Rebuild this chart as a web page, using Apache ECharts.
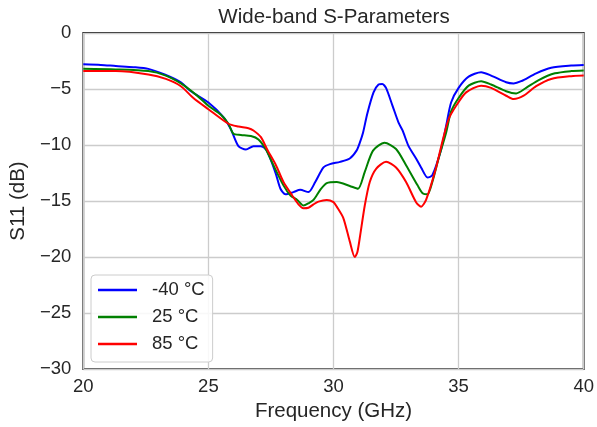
<!DOCTYPE html>
<html>
<head>
<meta charset="utf-8">
<script src="https://cdn.jsdelivr.net/npm/echarts@6/dist/echarts.min.js"></script>
<style>
html,body{margin:0;padding:0;background:#fff;}
#chart{width:597px;height:427px;}
</style>
</head>
<body>
<div id="chart"></div>
<script>
// Data
const seriesNames = ['-40 °C', '25 °C', '85 °C'];
const xTicks = [20, 25, 30, 35, 40];
const yTicks = [0, -5, -10, -15, -20, -25, -30];

const freqM40 = [20.0,20.7,21.3,22.0,22.6,23.25,23.9,24.3,25.0,25.6,25.9,26.2,26.5,26.8,27.1,27.3,27.49,27.7,27.88,28.08,28.4,28.67,29.0,29.27,29.6,29.86,30.26,30.65,30.92,31.05,31.18,31.35,31.6,31.8,31.95,32.1,32.36,32.6,32.76,33.0,33.3,33.5,33.76,33.95,34.3,34.5,34.7,35.0,35.4,35.9,36.3,36.9,37.2,37.5,38.1,38.7,39.5,40.0];
const s11M40  = [-2.8,-2.85,-2.95,-3.05,-3.2,-3.7,-4.4,-5.2,-6.2,-7.5,-8.6,-10.1,-10.4,-10.1,-10.1,-10.4,-11.3,-12.6,-13.9,-14.4,-14.2,-14.0,-14.2,-13.3,-12.0,-11.7,-11.5,-11.2,-10.5,-9.8,-8.9,-7.2,-5.3,-4.6,-4.55,-4.9,-6.5,-8.0,-8.7,-10.1,-11.2,-12.0,-12.9,-12.7,-10.4,-8.3,-6.2,-4.9,-3.9,-3.5,-3.8,-4.4,-4.5,-4.3,-3.6,-3.1,-2.9,-2.85];

const freq25 = [20.0,21.3,22.6,23.3,23.9,24.5,25.0,25.5,25.8,26.0,26.3,26.7,27.0,27.3,27.6,28.0,28.28,28.55,28.8,29.0,29.2,29.47,29.73,30.13,30.65,30.98,31.25,31.58,32.04,32.5,32.9,33.36,33.56,33.76,33.95,34.2,34.5,34.7,35.0,35.4,35.9,36.3,36.9,37.3,37.7,38.2,38.85,39.5,40.0];
const s1125  = [-3.2,-3.25,-3.4,-3.8,-4.5,-5.5,-6.5,-7.3,-8.1,-9.0,-9.1,-9.2,-9.5,-10.4,-11.8,-13.6,-14.5,-14.9,-15.4,-15.2,-14.9,-14.0,-13.4,-13.3,-13.65,-13.9,-12.4,-10.5,-9.8,-10.35,-11.8,-13.6,-14.3,-14.4,-13.3,-11.2,-8.9,-7.0,-5.8,-4.7,-4.3,-4.6,-5.2,-5.4,-4.9,-4.2,-3.6,-3.4,-3.35];

const freq85 = [20.0,21.3,22.6,23.3,23.9,24.4,25.0,25.8,26.2,26.6,26.8,27.1,27.35,27.7,28.0,28.35,28.6,28.8,29.0,29.2,29.4,29.73,30.0,30.13,30.39,30.65,30.85,30.95,31.05,31.25,31.45,31.71,32.1,32.5,32.9,33.3,33.5,33.7,34.09,34.35,34.6,34.9,35.3,35.9,36.3,36.9,37.2,37.6,38.1,38.7,39.5,40.0];
const s1185  = [-3.4,-3.4,-3.7,-4.1,-4.75,-5.8,-6.8,-8.1,-8.35,-8.5,-8.7,-9.3,-10.4,-11.8,-13.3,-14.5,-15.3,-15.65,-15.6,-15.3,-15.05,-14.9,-15.1,-15.5,-16.5,-18.6,-20.0,-19.6,-18.3,-15.4,-13.3,-12.1,-11.5,-12.0,-13.3,-15.1,-15.5,-14.9,-12.1,-9.7,-7.7,-6.5,-5.3,-4.7,-4.9,-5.6,-5.9,-5.6,-4.75,-4.1,-3.85,-3.8];

const colors = ['#0000ff', '#008000', '#ff0000'];
const FONT = '"Liberation Sans", Arial, sans-serif';
const TXT = '#262626';

function pairs(xs, ys) { return xs.map((x, i) => [x, ys[i]]); }
const allData = [pairs(freqM40, s11M40), pairs(freq25, s1125), pairs(freq85, s1185)];

const chart = echarts.init(document.getElementById('chart'), null, {renderer: 'canvas'});
chart.setOption({
  animation: false,
  backgroundColor: '#ffffff',
  title: {
    text: 'Wide-band S-Parameters',
    left: 334, top: 7, textAlign: 'center', padding: 0,
    textStyle: {fontFamily: FONT, fontSize: 20.5, fontWeight: 'normal', color: TXT}
  },
  grid: {
    left: 81, right: 11, top: 33, bottom: 55,
    show: true, borderColor: '#1a1a1a', borderWidth: 1.8, backgroundColor: 'transparent'
  },
  legend: {
    data: seriesNames,
    orient: 'vertical',
    left: 91, top: 275,
    padding: [5, 8, 8, 7],
    itemGap: 7,
    itemWidth: 39, itemHeight: 2.5,
    icon: 'rect',
    backgroundColor: 'rgba(255,255,255,0.85)',
    borderColor: '#cccccc', borderWidth: 1, borderRadius: 4,
    textStyle: {fontFamily: FONT, fontSize: 18.5, color: TXT, lineHeight: 20, padding: [0, 0, 0, 10]}
  },
  xAxis: {
    type: 'value', min: 20, max: 40, interval: 5,
    name: 'Frequency (GHz)', nameLocation: 'middle', nameGap: 30,
    nameTextStyle: {fontFamily: FONT, fontSize: 20.5, color: TXT},
    axisLine: {show: false}, axisTick: {show: false},
    axisLabel: {fontFamily: FONT, fontSize: 18.5, color: TXT, margin: 8,
      formatter: v => xTicks.includes(v) ? String(v) : ''},
    splitLine: {show: true, lineStyle: {color: '#cccccc', width: 1.3}}
  },
  yAxis: {
    type: 'value', min: -30, max: 0, interval: 5,
    name: 'S11 (dB)', nameLocation: 'middle', nameGap: 39,
    nameTextStyle: {fontFamily: FONT, fontSize: 20.5, color: TXT},
    axisLine: {show: false}, axisTick: {show: false},
    axisLabel: {fontFamily: FONT, fontSize: 18.5, color: TXT, margin: 12,
      formatter: v => yTicks.includes(v) ? (v < 0 ? '\u2212' + Math.abs(v) : String(v)) : ''},
    splitLine: {show: true, lineStyle: {color: '#cccccc', width: 1.3}}
  },
  series: seriesNames.map((n, i) => ({
    name: n, type: 'line', data: allData[i],
    showSymbol: false, symbol: 'none', smooth: 0.25,
    lineStyle: {color: colors[i], width: 2},
    itemStyle: {color: colors[i]},
    z: 3 + i
  }))
});
</script>
</body>
</html>
